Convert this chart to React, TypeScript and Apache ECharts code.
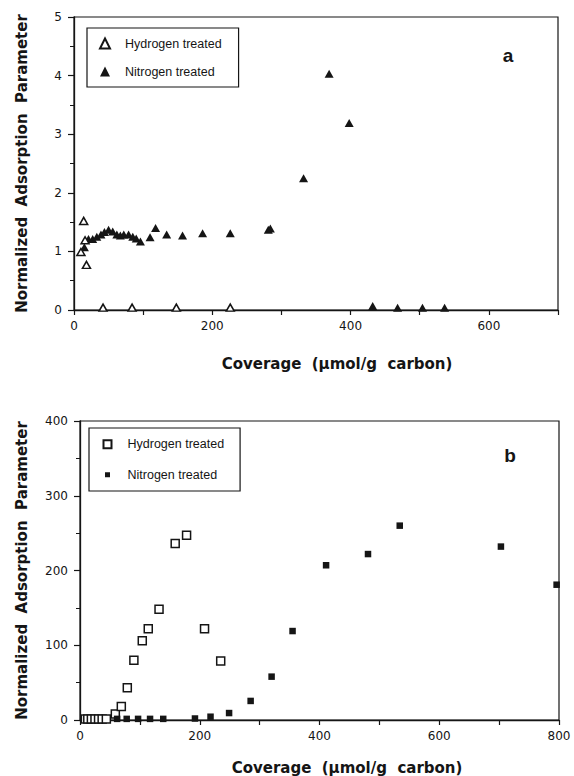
import React, { useEffect, useRef } from 'react';
import * as echarts from 'echarts';

// ---- data ----
const legendLabels = ['Hydrogen treated', 'Nitrogen treated'];
const panelLabels = ['a', 'b'];
const xTitle = 'Coverage  (µmol/g  carbon)';
const yTitle = 'Normalized  Adsorption  Parameter';

// panel a : coverage (µmol/g carbon), normalized adsorption parameter
const hydrogenA: number[][] = [
  [10, 0.99], [14, 1.52], [16, 1.19], [18, 0.77],
  [42, 0.04], [84, 0.04], [148, 0.04], [226, 0.04],
];
const nitrogenA: number[][] = [
  [15, 1.07], [21, 1.21], [27, 1.21], [33, 1.25], [39, 1.29], [44, 1.33],
  [50, 1.37], [56, 1.34], [62, 1.29], [67, 1.27], [72, 1.29], [79, 1.29],
  [85, 1.25], [90, 1.22], [96, 1.17], [110, 1.24], [118, 1.4], [134, 1.29],
  [157, 1.27], [186, 1.31], [226, 1.31], [281, 1.37], [284, 1.39],
  [332, 2.25], [369, 4.03], [398, 3.19],
  [432, 0.07], [468, 0.04], [504, 0.04], [536, 0.04],
];

// panel b
const hydrogenB: number[][] = [
  [9, 1.5], [13, 1.5], [19, 1.5], [25, 1.5], [31, 1.5], [37, 1.5], [44, 1.5],
  [59, 8], [69, 18], [79, 43], [90, 80], [104, 106], [114, 122], [132, 148],
  [159, 236], [178, 247], [208, 122], [235, 79],
];
const nitrogenB: number[][] = [
  [62, 1.5], [78, 1.5], [97, 1.5], [117, 1.5], [139, 1.5], [192, 2],
  [218, 4.4], [249, 9.3], [285, 25.5], [320, 58], [355, 119], [411, 207],
  [481, 222], [534, 260], [703, 232], [796, 181],
];

const xLabelsA = [0, 200, 400, 600];
const xLabelsB = [0, 200, 400, 600, 800];
const yLabelsA = [0, 1, 2, 3, 4, 5];
const yLabelsB = [0, 100, 200, 300, 400];

const INK = '#151515';

export default function App() {
  const ref = useRef<HTMLDivElement>(null);

  useEffect(() => {
    if (!ref.current) return;
    const chart = echarts.init(ref.current, undefined, { renderer: 'svg' });

    const nameMap: Record<string, string> = {
      Ha: legendLabels[0], Na: legendLabels[1],
      Hb: legendLabels[0], Nb: legendLabels[1],
    };

    const tickFont = { fontFamily: 'DejaVu Sans', fontSize: 12, color: INK };
    const titleFont = {
      fontFamily: 'DejaVu Sans', fontSize: 15, fontWeight: 'bold' as const, color: INK,
    };

    const xAxisBase = (labels: number[], max: number, gridIndex: number, gap: number, shift: number) => ({
      type: 'value' as const,
      gridIndex,
      min: 0,
      max,
      interval: 100,
      name: xTitle,
      nameLocation: 'middle' as const,
      nameGap: gap,
      nameTextStyle: { ...titleFont, padding: [0, 0, 0, shift] },
      splitLine: { show: false },
      axisLine: { lineStyle: { color: INK, width: 1.3 } },
      axisTick: { show: true, length: 5, lineStyle: { color: INK, width: 1.2 } },
      axisLabel: {
        ...tickFont,
        margin: 10,
        formatter: (v: number) => (labels.includes(v) ? String(v) : ''),
      },
    });

    const yAxisBase = (labels: number[], max: number, interval: number, gridIndex: number, gap: number) => ({
      type: 'value' as const,
      gridIndex,
      min: 0,
      max,
      interval,
      name: yTitle,
      nameLocation: 'middle' as const,
      nameRotate: 90,
      nameGap: gap,
      nameTextStyle: titleFont,
      splitLine: { show: false },
      axisLine: { lineStyle: { color: INK, width: 1.3 } },
      axisTick: { show: true, length: 6, lineStyle: { color: INK, width: 1.2 } },
      minorTick: { show: true, splitNumber: 2, length: 4, lineStyle: { color: INK, width: 1 } },
      axisLabel: {
        ...tickFont,
        margin: 12,
        formatter: (v: number) => (labels.includes(v) ? String(v) : ''),
      },
    });

    const legendBase = {
      orient: 'vertical' as const,
      selectedMode: false,
      borderColor: INK,
      borderWidth: 1.2,
      formatter: (n: string) => nameMap[n],
    };

    chart.setOption({
      animation: false,
      backgroundColor: '#fff',
      grid: [
        { left: 74, top: 17, width: 484, height: 293, show: true, borderColor: INK, borderWidth: 1.2 },
        { left: 80, top: 421, width: 479, height: 300, show: true, borderColor: INK, borderWidth: 1.2 },
      ],
      xAxis: [
        xAxisBase(xLabelsA, 700, 0, 46, 42),
        xAxisBase(xLabelsB, 800, 1, 40, 55),
      ],
      yAxis: [
        yAxisBase(yLabelsA, 5, 1, 0, 45),
        yAxisBase(yLabelsB, 400, 100, 1, 51),
      ],
      legend: [
        {
          ...legendBase,
          data: ['Ha', 'Na'],
          left: 87,
          top: 28,
          itemWidth: 10,
          itemHeight: 10,
          itemGap: 15,
          padding: [9, 17, 9, 12],
          textStyle: {
            fontFamily: 'Liberation Sans', fontSize: 12.5, color: INK,
            lineHeight: 10, padding: [0, 0, 0, 10],
          },
        },
        {
          ...legendBase,
          data: [
            'Hb',
            { name: 'Nb', itemStyle: { color: INK, borderColor: '#fff', borderWidth: 3 } },
          ],
          left: 89,
          top: 428,
          itemWidth: 8,
          itemHeight: 8,
          itemGap: 17.6,
          padding: [9.7, 16, 9.7, 13],
          textStyle: {
            fontFamily: 'Liberation Sans', fontSize: 12.5, color: INK,
            lineHeight: 8, padding: [0, 0, 0, 11],
          },
        },
      ],
      graphic: [
        {
          type: 'text', x: 508, y: 55,
          style: {
            text: panelLabels[0], fill: INK, font: 'bold 19px "Liberation Sans"',
            textAlign: 'center', textVerticalAlign: 'middle',
          },
        },
        {
          type: 'text', x: 510, y: 455,
          style: {
            text: panelLabels[1], fill: INK, font: 'bold 19px "Liberation Sans"',
            textAlign: 'center', textVerticalAlign: 'middle',
          },
        },
      ],
      series: [
        {
          name: 'Ha', type: 'scatter', xAxisIndex: 0, yAxisIndex: 0,
          data: hydrogenA, symbol: 'triangle', symbolSize: [8, 7], clip: false, z: 3,
          itemStyle: { color: '#fff', borderColor: INK, borderWidth: 1.5, opacity: 1 },
        },
        {
          name: 'Na', type: 'scatter', xAxisIndex: 0, yAxisIndex: 0,
          data: nitrogenA, symbol: 'triangle', symbolSize: [9, 8], clip: false, z: 2,
          itemStyle: { color: INK, opacity: 1 },
        },
        {
          name: 'Hb', type: 'scatter', xAxisIndex: 1, yAxisIndex: 1,
          data: hydrogenB, symbol: 'rect', symbolSize: 8, clip: false, z: 2,
          itemStyle: { color: '#fff', borderColor: INK, borderWidth: 1.5, opacity: 1 },
        },
        {
          name: 'Nb', type: 'scatter', xAxisIndex: 1, yAxisIndex: 1,
          data: nitrogenB, symbol: 'rect', symbolSize: 6.5, clip: false, z: 3,
          itemStyle: { color: INK, opacity: 1 },
        },
      ],
    });

    return () => chart.dispose();
  }, []);

  return (
    <div
      ref={ref}
      style={{ position: 'fixed', left: 0, top: 0, width: 574, height: 776, background: '#fff' }}
    />
  );
}
